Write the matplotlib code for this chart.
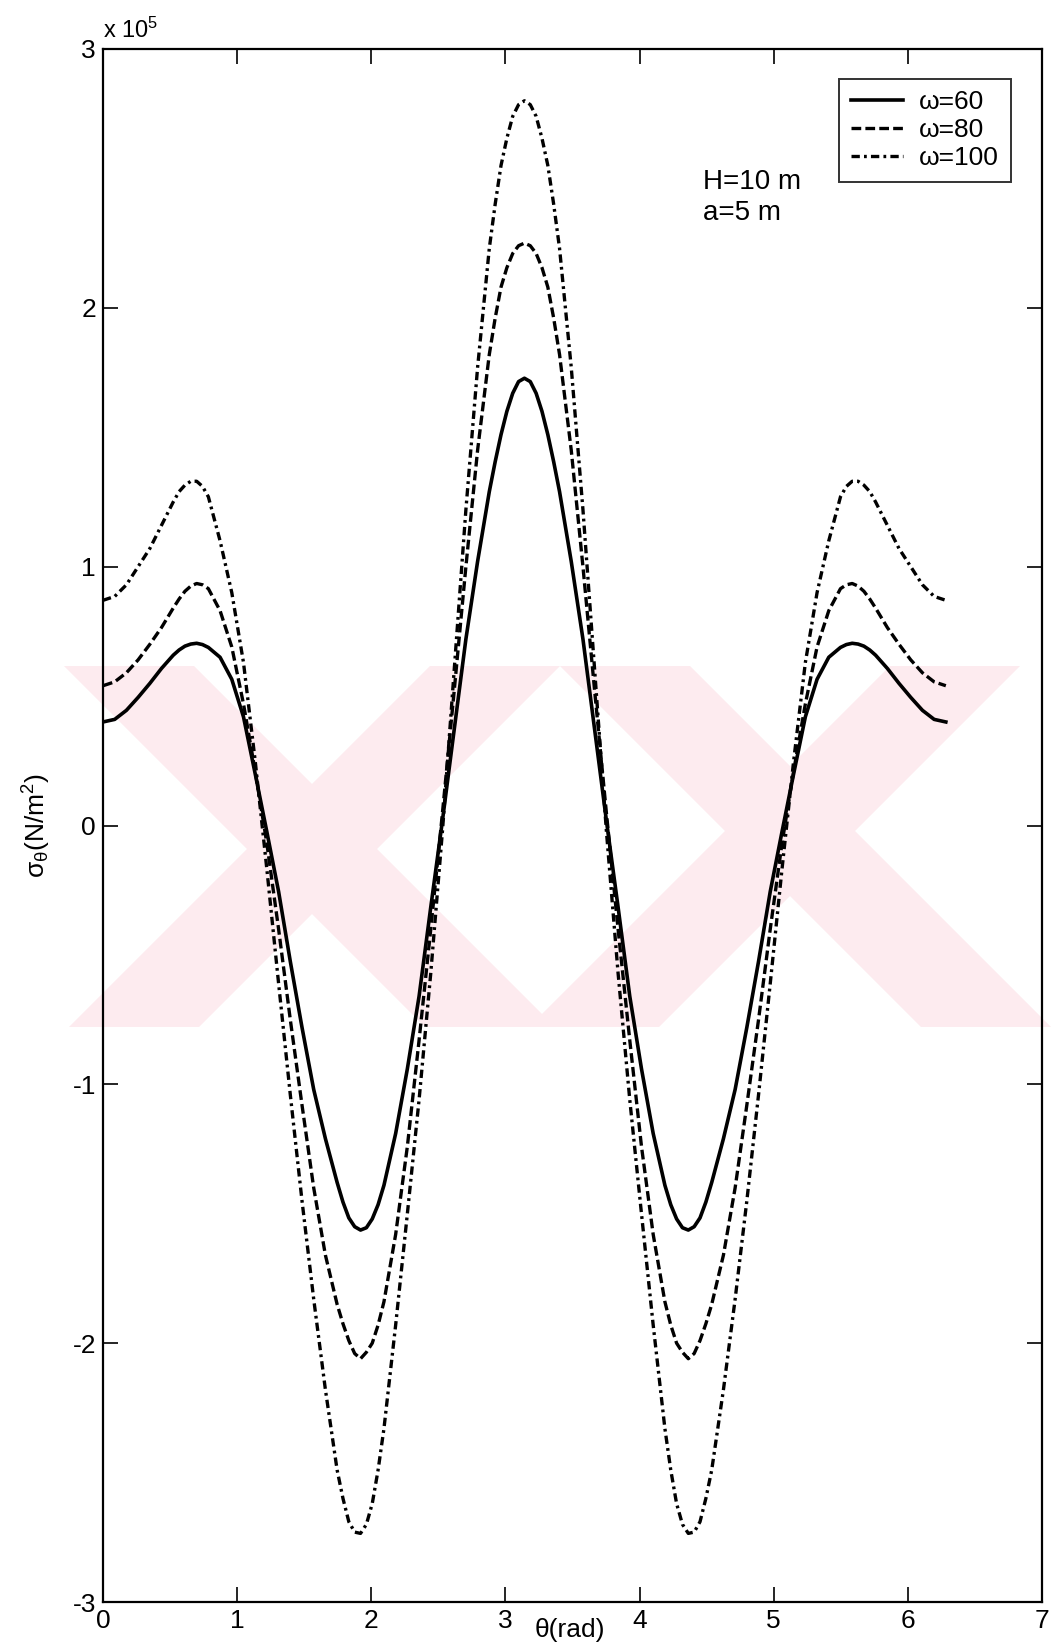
import numpy as np
import matplotlib
matplotlib.use('Agg')
import matplotlib.pyplot as plt
from matplotlib.patches import Polygon

plt.rcParams['font.family'] = ['Liberation Sans', 'DejaVu Sans']
plt.rcParams['mathtext.fontset'] = 'custom'
plt.rcParams['mathtext.rm'] = 'Liberation Sans'
plt.rcParams['mathtext.it'] = 'Liberation Sans'
plt.rcParams['lines.scale_dashes'] = False
plt.rcParams['axes.unicode_minus'] = False

# theta in degrees (plotted in rad); a few extra points near the extremes
theta_deg = [0, 5, 10, 15, 20, 25, 30, 32.5, 35, 37.5, 40, 42.5, 45, 50, 55, 60, 65, 70, 75,
             80, 85, 90, 95, 100, 102.5, 105, 107.5, 110, 112.5, 115, 117.5, 120, 125, 130,
             135, 140, 145, 150, 155, 160, 165, 167.5, 170, 172.5, 175, 177.5, 180,
             182.5, 185, 187.5, 190, 192.5, 195, 200, 205, 210, 215, 220, 225, 230, 235,
             240, 242.5, 245, 247.5, 250, 252.5, 255, 257.5, 260, 265, 270, 275, 280, 285,
             290, 295, 300, 305, 310, 315, 317.5, 320, 322.5, 325, 327.5, 330, 335, 340,
             345, 350, 355, 360]

# sigma_theta, units of 1e5 N/m^2
sigma_w60 = [0.400, 0.410, 0.445, 0.495, 0.549, 0.607, 0.658, 0.678, 0.693, 0.701, 0.704,
             0.699, 0.688, 0.650, 0.565, 0.420, 0.200, -0.025, -0.255, -0.525, -0.780,
             -1.020, -1.210, -1.379, -1.455, -1.516, -1.550, -1.563, -1.554, -1.520, -1.465,
             -1.390, -1.190, -0.940, -0.660, -0.315, 0.020, 0.370, 0.720, 1.020, 1.290,
             1.405, 1.510, 1.600, 1.670, 1.715, 1.728,
             1.715, 1.670, 1.600, 1.510, 1.405, 1.290, 1.020, 0.720, 0.370, 0.020, -0.315,
             -0.660, -0.940, -1.190, -1.390, -1.465, -1.520, -1.554, -1.563, -1.550, -1.516,
             -1.455, -1.379, -1.210, -1.020, -0.780, -0.525, -0.255, -0.025, 0.200, 0.420,
             0.565, 0.650, 0.688, 0.699, 0.704, 0.701, 0.693, 0.678, 0.658, 0.607, 0.549,
             0.495, 0.445, 0.410, 0.400]
sigma_w80 = [0.540, 0.555, 0.590, 0.640, 0.700, 0.765, 0.840, 0.875, 0.905, 0.925, 0.935,
             0.930, 0.915, 0.830, 0.690, 0.470, 0.210, -0.070, -0.400, -0.750, -1.080,
             -1.400, -1.660, -1.850, -1.925, -1.990, -2.040, -2.060, -2.035, -2.000, -1.930,
             -1.840, -1.580, -1.240, -0.830, -0.400, 0.050, 0.520, 1.000, 1.450, 1.820,
             1.960, 2.080, 2.155, 2.210, 2.240, 2.250,
             2.240, 2.210, 2.155, 2.080, 1.960, 1.820, 1.450, 1.000, 0.520, 0.050, -0.400,
             -0.830, -1.240, -1.580, -1.840, -1.930, -2.000, -2.035, -2.060, -2.040, -1.990,
             -1.925, -1.850, -1.660, -1.400, -1.080, -0.750, -0.400, -0.070, 0.210, 0.470,
             0.690, 0.830, 0.915, 0.930, 0.935, 0.925, 0.905, 0.875, 0.840, 0.765, 0.700,
             0.640, 0.590, 0.555, 0.540]
sigma_w100 = [0.870, 0.885, 0.930, 1.000, 1.070, 1.160, 1.250, 1.290, 1.315, 1.330, 1.330,
              1.310, 1.270, 1.100, 0.900, 0.630, 0.250, -0.170, -0.610, -1.040, -1.450,
              -1.830, -2.180, -2.490, -2.600, -2.690, -2.730, -2.735, -2.700, -2.620, -2.490,
              -2.330, -1.930, -1.500, -1.060, -0.570, -0.020, 0.600, 1.220, 1.770, 2.230,
              2.400, 2.550, 2.655, 2.740, 2.785, 2.800,
              2.785, 2.740, 2.655, 2.550, 2.400, 2.230, 1.770, 1.220, 0.600, -0.020, -0.570,
              -1.060, -1.500, -1.930, -2.330, -2.490, -2.620, -2.700, -2.735, -2.730, -2.690,
              -2.600, -2.490, -2.180, -1.830, -1.450, -1.040, -0.610, -0.170, 0.250, 0.630,
              0.900, 1.100, 1.270, 1.310, 1.330, 1.330, 1.315, 1.290, 1.250, 1.160, 1.070,
              1.000, 0.930, 0.885, 0.870]

labels = ['\u03c9=60', '\u03c9=80', '\u03c9=100']
xticks = [0, 1, 2, 3, 4, 5, 6, 7]
yticks = [-3, -2, -1, 0, 1, 2, 3]

theta = np.deg2rad(theta_deg)

fig = plt.figure(figsize=(10.52, 16.52), dpi=100)
W, H = 1052.0, 1652.0

# faint pink watermark behind the plot (pixel coords)
wm_color = '#fdebef'
wm_shapes = [
    [(64, 666), (194, 666), (555, 1027), (425, 1027)],
    [(430, 666), (560, 666), (199, 1027), (69, 1027)],
    [(560, 666), (690, 666), (1051, 1027), (921, 1027)],
    [(890, 666), (1020, 666), (659, 1027), (529, 1027)],
]
for pts in wm_shapes:
    fig.patches.append(Polygon([(x / W, 1 - y / H) for x, y in pts], closed=True,
                               transform=fig.transFigure, facecolor=wm_color,
                               edgecolor='none', zorder=0))

ax = fig.add_axes([103 / W, 1 - 1602 / H, 939 / W, 1553 / H])
ax.set_facecolor('none')
ax.set_zorder(2)

ax.plot(theta, sigma_w60, color='black', lw=2.6, label=labels[0])
ax.plot(theta, sigma_w80, color='black', lw=2.4, dashes=(7, 3), label=labels[1])
ax.plot(theta, sigma_w100, color='black', lw=2.4, dashes=(6, 3, 2, 3), label=labels[2])

ax.set_xlim(0, 7)
ax.set_ylim(-3, 3)
ax.set_xticks(xticks)
ax.set_yticks(yticks)
ax.tick_params(direction='in', length=11, width=1.2, top=True, right=True,
               labelsize=19, pad=5)
for sp in ax.spines.values():
    sp.set_linewidth(1.6)

ax.text(0.0, 1.004, 'x 10$^5$', transform=ax.transAxes, ha='left', va='bottom', fontsize=17)

ax.set_xlabel('\u03b8(rad)', fontsize=19)
ax.xaxis.set_label_coords(0.497, -0.0105)
ax.set_ylabel(r'$\sigma_\theta$(N/m$^2$)', fontsize=19)
ax.yaxis.set_label_coords(-0.053, 0.5)

ax.text(0.639, 0.923, 'H=10 m', transform=ax.transAxes, ha='left', va='top', fontsize=20)
ax.text(0.639, 0.903, 'a=5 m', transform=ax.transAxes, ha='left', va='top', fontsize=20)

leg = ax.legend(loc='upper right', bbox_to_anchor=(0.967, 0.981), fontsize=19,
                frameon=True, fancybox=False, handlelength=2.0, handletextpad=0.6,
                labelspacing=0.15, borderpad=0.45, borderaxespad=0.0)
leg.get_frame().set_edgecolor('black')
leg.get_frame().set_linewidth(1.4)

fig.savefig('out.png', dpi=100)
